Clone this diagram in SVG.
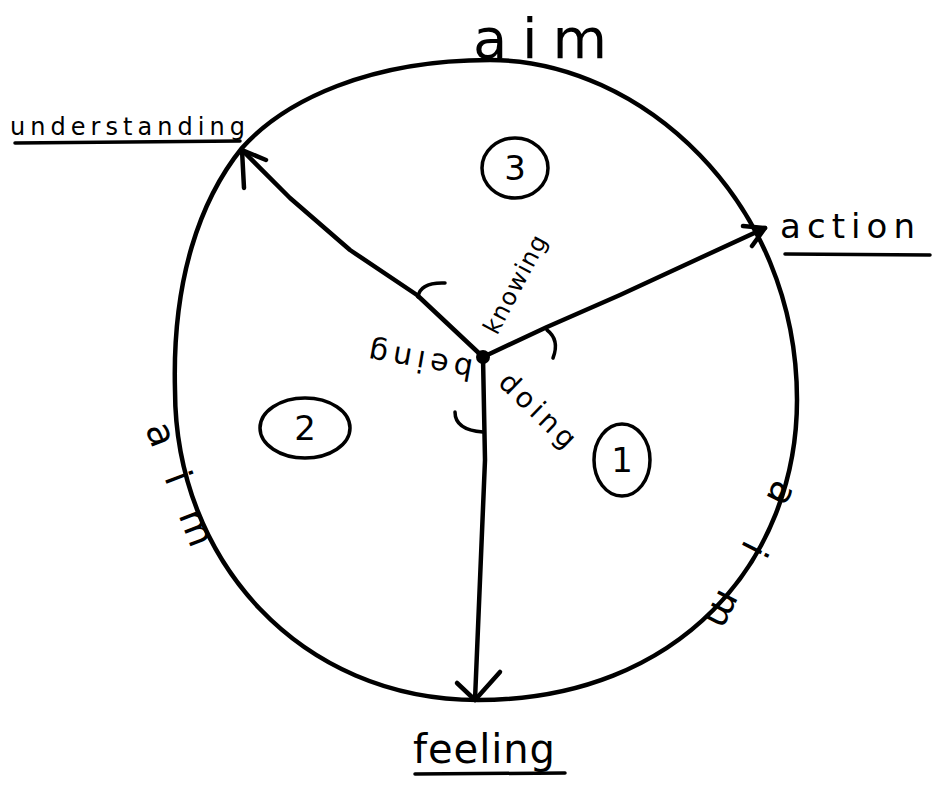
<svg xmlns="http://www.w3.org/2000/svg" width="934" height="787" viewBox="0 0 934 787">
<style>
.ink{fill:none;stroke:#000;stroke-width:4.5;stroke-linecap:round;stroke-linejoin:round}
.thin{fill:none;stroke:#000;stroke-width:3.5;stroke-linecap:round;stroke-linejoin:round}
.t{font-family:"DejaVu Sans","Liberation Sans",sans-serif;fill:#000}
</style>
<rect width="934" height="787" fill="#fff"/>
<g id="wheel">
<path class="ink" d="M490,60 C640,60 797,200 797,400 C797,560 680,700 478,700 C300,700 175,560 175,390 C172,280 200,200 242,148 C285,100 370,60 490,60 Z"/>
</g>
<g id="connectors">
<path class="ink" d="M483,357 L417,295 L350,250 L290,198 L242,150"/>
<path class="ink" d="M266,160 L242,150 L244,188"/>
<path class="ink" d="M483,357 L547,327 L620,295 L700,258 L765,228"/>
<path class="ink" d="M743,226 L765,228 L752,246"/>
<path class="ink" d="M483,357 L485,460 L475,700"/>
<path class="ink" d="M457,683 L475,700 L500,672"/>
<path class="thin" d="M418,297 Q420,282 445,283"/>
<path class="thin" d="M547,330 Q560,340 553,358"/>
<path class="thin" d="M455,412 Q455,430 483,432"/>
<circle cx="483" cy="357" r="7" fill="#000"/>
</g>
<g id="understanding">
<text class="t" x="10" y="135" font-size="24" textLength="235" lengthAdjust="spacing">understanding</text>
<path class="thin" d="M15,143 L240,141"/>
</g>
<g id="aim">
<text class="t" x="473" y="58" font-size="56" textLength="134" lengthAdjust="spacing">aim</text>
</g>
<g id="action">
<text class="t" x="780" y="238" font-size="34" textLength="135" lengthAdjust="spacing">action</text>
<path class="thin" d="M785,254 L930,255"/>
</g>
<g id="feeling">
<text class="t" x="413" y="763" font-size="40" textLength="142" lengthAdjust="spacing">feeling</text>
<path class="thin" d="M415,774 L565,773"/>
</g>
<g id="knowing">
<text class="t" font-size="24" transform="translate(497,336) rotate(-62)" textLength="108" lengthAdjust="spacing">knowing</text>
</g>
<g id="doing">
<text class="t" font-size="28" transform="translate(497,384) rotate(44)" textLength="95" lengthAdjust="spacing">doing</text>
</g>
<g id="being">
<text class="t" font-size="30" transform="translate(474,360) rotate(190)" textLength="105" lengthAdjust="spacing">being</text>
</g>
<g id="aim-left">
<text class="t" font-size="38" transform="translate(145,428) rotate(69)" textLength="130" lengthAdjust="spacing">aim</text>
</g>
<g id="aim-right">
<text class="t" font-size="38" transform="translate(776,478) rotate(117)" textLength="160" lengthAdjust="spacing">aim</text>
</g>
<g id="n3">
<ellipse class="thin" cx="515" cy="168" rx="33" ry="30"/>
<text class="t" x="515" y="180" font-size="34" text-anchor="middle">3</text>
</g>
<g id="n2">
<ellipse class="thin" cx="305" cy="428" rx="45" ry="30"/>
<text class="t" x="305" y="440" font-size="34" text-anchor="middle">2</text>
</g>
<g id="n1">
<ellipse class="thin" cx="622" cy="460" rx="28" ry="36"/>
<text class="t" x="622" y="472" font-size="34" text-anchor="middle">1</text>
</g>
</svg>
